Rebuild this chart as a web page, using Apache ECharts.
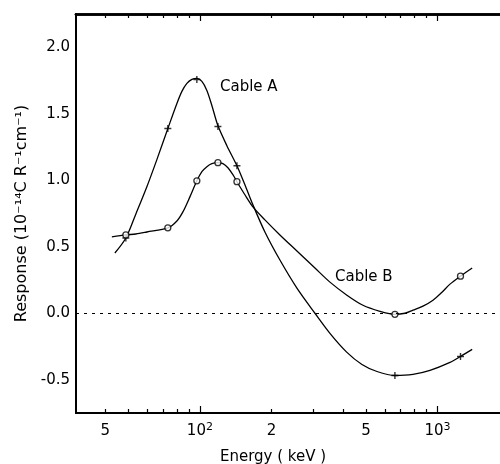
<!DOCTYPE html>
<html><head><meta charset="utf-8">
<script src="https://cdn.jsdelivr.net/npm/echarts@6/dist/echarts.min.js"></script>
<style>html,body{margin:0;padding:0;background:#fff}#c{width:500px;height:464px}</style>
</head><body><div id="c"></div>
<script>
// ---- data (Energy in keV, Response in 1e-14 C R^-1 cm^-1) ----
// points
const curveA_E = [43.87, 48.81, 53.78, 59.82, 65.91, 73.33, 80.03, 84.0, 88.17, 92.54, 97.13, 101.96, 107.0, 112.3, 119.05, 129.9, 143.2, 154.7, 167.2, 187.8, 217.2, 256.1, 305.0, 352.7, 415.8, 481.0, 556.4, 662, 788.6, 929.8, 1129, 1250, 1400];
const curveA_R = [0.453, 0.566, 0.747, 0.951, 1.155, 1.389, 1.577, 1.668, 1.728, 1.758, 1.766, 1.743, 1.675, 1.562, 1.411, 1.260, 1.109, 0.966, 0.815, 0.611, 0.400, 0.189, 0.0, -0.151, -0.294, -0.385, -0.438, -0.468, -0.460, -0.430, -0.370, -0.325, -0.272];
const curveB_E = [42.61, 48.81, 53.78, 59.82, 73.33, 80.03, 84.82, 90.77, 97.13, 101.96, 107.0, 112.3, 119.05, 125.0, 131.2, 137.7, 143.2, 154.7, 167.2, 187.8, 217.2, 256.1, 305.0, 352.7, 415.8, 485.8, 572.8, 662, 729.8, 788.6, 868.7, 957.4, 1044.6, 1129, 1250, 1400];
const curveB_R = [0.574, 0.589, 0.596, 0.611, 0.642, 0.694, 0.762, 0.875, 0.996, 1.064, 1.102, 1.125, 1.132, 1.125, 1.094, 1.042, 0.989, 0.891, 0.800, 0.702, 0.589, 0.468, 0.340, 0.234, 0.136, 0.060, 0.015, -0.008, 0.0, 0.023, 0.053, 0.098, 0.158, 0.219, 0.279, 0.340];
// measured points (markers)
const markA_E = [48.8, 73.3, 97.1, 119.1, 143.2, 662, 1250];
const markA_R = [0.566, 1.389, 1.758, 1.404, 1.109, -0.468, -0.325];
const markB_E = [48.8, 73.3, 97.1, 119.1, 143.2, 662, 1250];
const markB_R = [0.589, 0.642, 0.996, 1.132, 0.989, -0.008, 0.279];
// axis ticks and labels
const xMinorTicks = [40, 50, 60, 70, 80, 90, 200, 300, 400, 500, 600, 700, 800, 900];
const xMajorTicks = [100, 1000];
const xLabelPos = [40, 100, 200, 500, 1000];
const xLabelText = ['5', '10{s|2}', '2', '5', '10{s|3}'];
const yLabelPos = [-0.5, 0, 0.5, 1.0, 1.5, 2.0];

const zip = (a, b) => a.map((v, i) => [v, b[i]]);
const FONT = 'DejaVu Sans';
const X_MIN = 30.1, X_MAX = 1833;

function xAxisDef(pos, ticks, len, labels, width) {
  return {
    type: 'log', logBase: 10, min: X_MIN, max: X_MAX, position: pos,
    axisLine: { show: true, onZero: false, lineStyle: { color: '#000', width: width } },
    axisTick: { show: true, inside: true, length: len, customValues: ticks, lineStyle: { color: '#000', width: 1.2 } },
    axisLabel: labels ? {
      show: true, customValues: xLabelPos, margin: 9, color: '#000', fontFamily: FONT, fontSize: 15, lineHeight: 18,
      rich: { s: { fontFamily: FONT, fontSize: 11, lineHeight: 18, verticalAlign: 'top', color: '#000', padding: [0, 0, 6, 0] } },
      formatter: v => { const i = xLabelPos.findIndex(p => Math.abs(p - v) / p < 1e-6); return i >= 0 ? xLabelText[i] : ''; }
    } : { show: false },
    splitLine: { show: false }, minorTick: { show: false }, minorSplitLine: { show: false }
  };
}

const xAxes = [
  xAxisDef('bottom', xMinorTicks, 4, false, 2),
  xAxisDef('bottom', xMajorTicks, 7, true, 2),
  xAxisDef('top', xMinorTicks, 4, false, 2.6),
  xAxisDef('top', xMajorTicks, 7, false, 2.6)
];
xAxes[1].name = 'Energy ( keV )';
xAxes[1].nameLocation = 'middle';
xAxes[1].nameGap = 37;
xAxes[1].nameTextStyle = { fontFamily: FONT, fontSize: 15, color: '#000', padding: [0, 30, 0, 0] };

const chart = echarts.init(document.getElementById('c'), null, { renderer: 'canvas' });
chart.setOption({
  animation: false,
  backgroundColor: '#fff',
  grid: { left: 76, right: 0, top: 14, bottom: 51, containLabel: false, outerBoundsMode: 'none' },
  xAxis: xAxes,
  yAxis: {
    type: 'value', min: -0.75, max: 2.25,
    axisLine: { show: true, onZero: false, lineStyle: { color: '#000', width: 2 } },
    axisTick: { show: false },
    axisLabel: { customValues: yLabelPos, formatter: v => v.toFixed(1), margin: 6, color: '#000', fontFamily: FONT, fontSize: 15 },
    splitLine: { show: false },
    name: 'Response (10⁻¹⁴C R⁻¹cm⁻¹)', nameLocation: 'middle', nameGap: 46,
    nameTextStyle: { fontFamily: FONT, fontSize: 16, color: '#000' }
  },
  series: [
    {
      name: 'Cable A curve', type: 'line', data: zip(curveA_E, curveA_R), smooth: 0.3, showSymbol: false,
      lineStyle: { color: '#000', width: 1.3 }, z: 2,
      markLine: {
        silent: true, symbol: 'none', label: { show: false },
        lineStyle: { color: '#000', width: 1, type: [3, 5] },
        data: [{ yAxis: 0 }]
      }
    },
    {
      name: 'Cable B curve', type: 'line', data: zip(curveB_E, curveB_R), smooth: 0.3, showSymbol: false,
      lineStyle: { color: '#000', width: 1.3 }, z: 2
    },
    {
      name: 'Cable A', type: 'scatter', data: zip(markA_E, markA_R),
      symbol: 'path://M5,0L5,10M0,5L10,5', symbolSize: 7,
      itemStyle: { color: 'rgba(0,0,0,0)', borderColor: '#000', borderWidth: 1.4 }, z: 4
    },
    {
      name: 'Cable B', type: 'scatter', data: zip(markB_E, markB_R),
      symbol: 'circle', symbolSize: 6,
      itemStyle: { color: '#fff', borderColor: '#000', borderWidth: 1.3 }, z: 4
    }
  ],
  graphic: [
    { type: 'text', left: 220, top: 80, style: { text: 'Cable A', font: '15px "DejaVu Sans"', fill: '#000' } },
    { type: 'text', left: 335, top: 270, style: { text: 'Cable B', font: '15px "DejaVu Sans"', fill: '#000' } }
  ]
});
</script>
</body></html>
